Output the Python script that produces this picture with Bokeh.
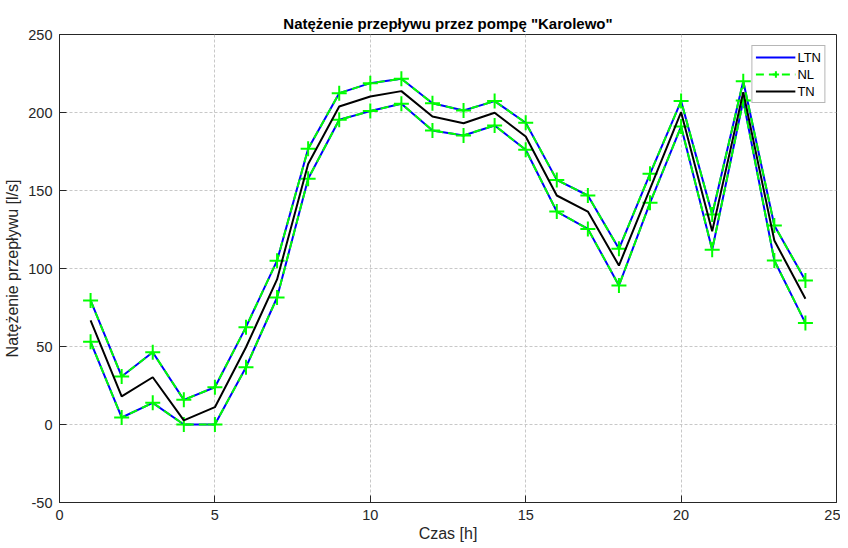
from bokeh.plotting import figure
from bokeh.models import (FixedTicker, Range1d, Legend, LegendItem, ColumnDataSource)
from bokeh.embed import file_html
from bokeh.resources import INLINE

hours = list(range(1, 25))
upper = [79.5, 30.8, 46.3, 15.8, 23.9, 62.4, 105.0, 176.7, 212.4, 218.8, 221.6, 205.9,
         201.3, 207.3, 193.4, 156.8, 146.8, 112.6, 160.7, 207.3, 134.6, 220.0, 127.6, 92.3]
lower = [53.0, 4.5, 13.9, 0.0, 0.0, 36.7, 81.4, 157.5, 195.3, 200.9, 205.6, 188.5,
         185.3, 191.7, 176.1, 136.5, 125.4, 89.1, 142.1, 191.0, 112.0, 207.7, 105.1, 65.0]
tn = [66.7, 18.0, 30.3, 2.6, 11.1, 49.5, 93.0, 167.0, 203.8, 210.3, 213.7, 197.4,
      193.1, 199.8, 184.6, 146.8, 136.5, 101.9, 151.0, 200.2, 123.9, 213.0, 118.0, 80.6]

x_ticks = [0, 5, 10, 15, 20, 25]
y_ticks = [-50, 0, 50, 100, 150, 200, 250]

FONT = "Liberation Sans"

p = figure(width=840, height=548, output_backend="svg", toolbar_location=None,
           x_range=Range1d(0, 25), y_range=Range1d(-50, 250),
           min_border_left=59, min_border_right=4, min_border_top=34, min_border_bottom=46)

p.title.text = 'Natężenie przepływu przez pompę "Karolewo"'
p.title.align = "center"
p.title.text_font = FONT
p.title.text_font_size = "15px"
p.title.text_font_style = "bold"
p.title.text_color = "black"
p.title.standoff = 6

p.outline_line_color = "#262626"
p.outline_line_width = 1
p.outline_line_alpha = 1

for ax in (p.xaxis[0], p.yaxis[0]):
    ax.major_label_text_font = FONT
    ax.major_label_text_font_size = "14.5px"
    ax.major_label_text_color = "#262626"
    ax.axis_label_text_font = FONT
    ax.axis_label_text_font_size = "16px"
    ax.axis_label_text_font_style = "normal"
    ax.axis_label_text_color = "#262626"
    ax.axis_line_color = "#262626"
    ax.major_tick_line_color = "#262626"
    ax.major_tick_in = 7
    ax.major_tick_out = 0
    ax.minor_tick_line_color = None

p.xaxis[0].ticker = FixedTicker(ticks=x_ticks)
p.yaxis[0].ticker = FixedTicker(ticks=y_ticks)
p.yaxis[0].major_label_overrides = {-50: "-50"}
p.xaxis[0].axis_label = "Czas [h]"
p.yaxis[0].axis_label = "Natężenie przepływu [l/s]"
p.xaxis[0].major_label_standoff = 7
p.xaxis[0].axis_label_standoff = 2
p.yaxis[0].major_label_standoff = 7
p.yaxis[0].axis_label_standoff = 4

p.xgrid.ticker = FixedTicker(ticks=x_ticks)
p.ygrid.ticker = FixedTicker(ticks=y_ticks)
for g in (p.xgrid[0], p.ygrid[0]):
    g.grid_line_color = "#c8c8c8"
    g.grid_line_dash = "3 2"
    g.grid_line_width = 1
    g.grid_line_alpha = 1

src = ColumnDataSource(dict(x=hours, up=upper, lo=lower, tn=tn))

ltn_up = p.line("x", "up", source=src, line_color="#0000ff", line_width=2)
ltn_lo = p.line("x", "lo", source=src, line_color="#0000ff", line_width=2)
nl_up = p.line("x", "up", source=src, line_color="#00ff00", line_width=2, line_dash="8 5")
nl_lo = p.line("x", "lo", source=src, line_color="#00ff00", line_width=2, line_dash="8 5")
nl_up_m = p.scatter("x", "up", source=src, marker="cross", size=15, line_color="#00ff00", line_width=2)
nl_lo_m = p.scatter("x", "lo", source=src, marker="cross", size=15, line_color="#00ff00", line_width=2)
tn_r = p.line("x", "tn", source=src, line_color="black", line_width=2)

legend = Legend(items=[
    LegendItem(label="LTN", renderers=[ltn_up]),
    LegendItem(label="NL", renderers=[nl_up, nl_up_m]),
    LegendItem(label="TN", renderers=[tn_r]),
], location="top_right")
legend.label_text_font = FONT
legend.label_text_font_size = "13px"
legend.label_text_color = "black"
legend.glyph_width = 40
legend.glyph_height = 16
legend.spacing = 1
legend.padding = 3
legend.margin = 11
legend.label_standoff = 2
legend.label_height = 16
legend.border_line_color = "#6e6e6e"
legend.border_line_width = 1
legend.background_fill_alpha = 1
p.add_layout(legend)

open("out.html", "w").write(file_html(p, INLINE))
